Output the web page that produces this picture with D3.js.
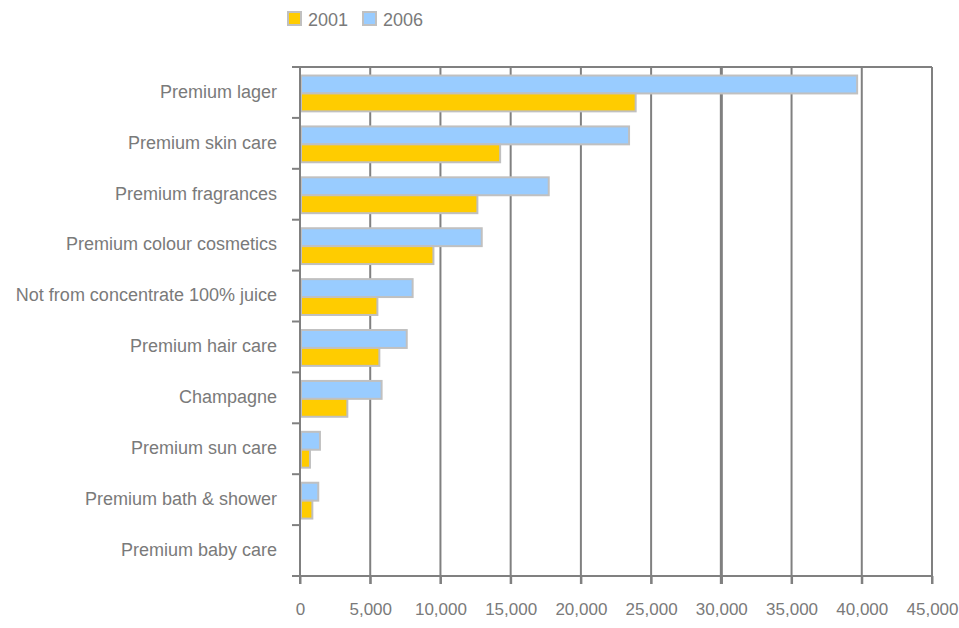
<!DOCTYPE html>
<html>
<head>
<meta charset="utf-8">
<script src="https://cdn.jsdelivr.net/npm/d3@7"></script>
<style>
  html, body { margin: 0; padding: 0; background: #fff; }
  svg { display: block; }
  text { font-family: "Liberation Sans", Arial, sans-serif; fill: #7a7a7a; }
</style>
</head>
<body>
<svg id="chart" width="959" height="628"></svg>
<script>
// Market size by premium category, 2001 vs 2006
const categories = [
  "Premium lager",
  "Premium skin care",
  "Premium fragrances",
  "Premium colour cosmetics",
  "Not from concentrate 100% juice",
  "Premium hair care",
  "Champagne",
  "Premium sun care",
  "Premium bath & shower",
  "Premium baby care"
];
const values2001 = [23900, 14250, 12630, 9500, 5510, 5650, 3370, 710, 880, 0];
const values2006 = [39670, 23430, 17710, 12940, 8020, 7600, 5810, 1420, 1300, 0];
const seriesNames = ["2006", "2001"];        // drawing order within each category
const legendNames = ["2001", "2006"];
const colors = { "2001": "#FFCC00", "2006": "#99CCFF" };
const xTicks = [0, 5000, 10000, 15000, 20000, 25000, 30000, 35000, 40000, 45000];

const svg = d3.select("#chart");
const W = 959, H = 628;
const margin = { top: 67, right: 27, bottom: 52, left: 300 };
const gridColor = "#808080";
const borderColor = "#C0C0C0";

const x = d3.scaleLinear().domain([0, 45000]).range([margin.left, W - margin.right]);
const y = d3.scaleBand().domain(categories).range([margin.top, H - margin.bottom]).padding(0);
const ySub = d3.scaleBand().domain(seriesNames).range([0, y.bandwidth()])
  .paddingInner(0).paddingOuter(0.42);

const rows = categories.map((c, i) => ({ cat: c, "2001": values2001[i], "2006": values2006[i] }));

// vertical gridlines
svg.append("g").selectAll("line")
  .data(xTicks.slice(1))
  .join("line")
  .attr("x1", d => x(d)).attr("x2", d => x(d))
  .attr("y1", margin.top).attr("y2", H - margin.bottom + 8)
  .attr("stroke", gridColor)
  .attr("stroke-width", d => d === 30000 ? 3 : 2);

// top frame line
svg.append("line")
  .attr("x1", margin.left).attr("x2", W - margin.right)
  .attr("y1", margin.top).attr("y2", margin.top)
  .attr("stroke", gridColor).attr("stroke-width", 2);

// bars
const groups = svg.append("g").selectAll("g")
  .data(rows)
  .join("g")
  .attr("transform", d => `translate(0,${y(d.cat) + 1})`);

groups.selectAll("rect")
  .data(d => seriesNames.map(s => ({ s, v: d[s] })).filter(e => e.v > 0))
  .join("rect")
  .attr("x", x(0) + 1)
  .attr("y", d => ySub(d.s))
  .attr("width", d => Math.max(0, x(d.v) - x(0) - 1))
  .attr("height", ySub.bandwidth())
  .attr("fill", d => colors[d.s])
  .attr("stroke", borderColor)
  .attr("stroke-width", 2);

// x axis
const xAxis = d3.axisBottom(x)
  .tickValues(xTicks)
  .tickSize(8)
  .tickPadding(19)
  .tickFormat(d3.format(","));
const gx = svg.append("g")
  .attr("transform", `translate(0,${H - margin.bottom})`)
  .call(xAxis);
gx.select(".domain").remove();
gx.selectAll(".tick line").attr("stroke", gridColor).attr("stroke-width", 2);
gx.selectAll(".tick text").attr("font-size", 17).attr("fill", "#7a7a7a");
gx.append("line")
  .attr("x1", margin.left - 8).attr("x2", W - margin.right + 1)
  .attr("y1", 0).attr("y2", 0)
  .attr("stroke", gridColor).attr("stroke-width", 2);

// y axis (category ticks at band boundaries)
const gy = svg.append("g");
gy.append("line")
  .attr("x1", margin.left).attr("x2", margin.left)
  .attr("y1", margin.top - 1).attr("y2", H - margin.bottom + 8)
  .attr("stroke", gridColor).attr("stroke-width", 2);
const bounds = categories.map(c => y(c)).concat([y.range()[1]]);
gy.selectAll("line.cat-tick")
  .data(bounds)
  .join("line")
  .attr("class", "cat-tick")
  .attr("x1", margin.left - 8).attr("x2", margin.left)
  .attr("y1", d => d).attr("y2", d => d)
  .attr("stroke", gridColor).attr("stroke-width", 2);
gy.selectAll("text")
  .data(categories)
  .join("text")
  .attr("x", margin.left - 23)
  .attr("y", d => y(d) + y.bandwidth() / 2 - 1)
  .attr("dy", "0.35em")
  .attr("text-anchor", "end")
  .attr("font-size", 18)
  .text(d => d);

// legend
const legend = svg.append("g").attr("transform", "translate(288,12)");
const li = legend.selectAll("g")
  .data(legendNames)
  .join("g")
  .attr("transform", (d, i) => `translate(${i * 75},0)`);
li.append("rect")
  .attr("x", 0).attr("y", 0).attr("width", 13).attr("height", 13)
  .attr("fill", d => colors[d])
  .attr("stroke", borderColor).attr("stroke-width", 2);
li.append("text")
  .attr("x", 20).attr("y", 8).attr("dy", "0.35em")
  .attr("font-size", 18)
  .text(d => d);
</script>
</body>
</html>
